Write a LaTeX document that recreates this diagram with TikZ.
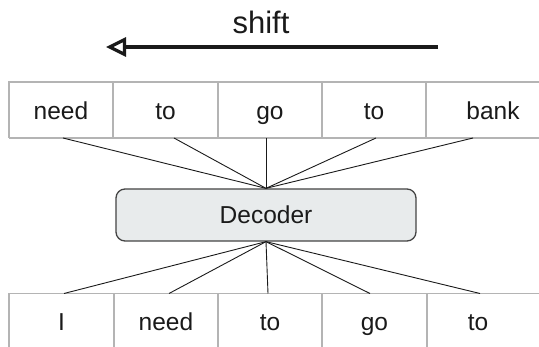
\documentclass[tikz,border=0pt]{standalone}
\usepackage{fontspec}
\setmainfont{Liberation Sans}
\usetikzlibrary{arrows.meta}
\definecolor{cellline}{HTML}{B4B4B4}
\definecolor{decfill}{HTML}{E8EBEC}
\definecolor{decline}{HTML}{444444}
\definecolor{ink}{HTML}{1A1A1A}
\tikzset{
  word/.style={text=ink, inner sep=0pt, anchor=base, font=\fontsize{24.5}{28}\selectfont},
  cellgrid/.style={draw=cellline, line width=1.1pt},
  decoderbox/.style={draw=decline, fill=decfill, line width=1.3pt, rounded corners=9pt,
    minimum width=300pt, minimum height=52pt, inner sep=0pt, text=ink,
    font=\fontsize{24.5}{28}\selectfont},
  link/.style={draw=ink, line width=0.9pt},
  shiftarrow/.style={draw=ink, line width=3.6pt,
    -{Triangle[open, length=20pt, width=19pt, line width=3.2pt]}},
}
\begin{document}
\begin{tikzpicture}[x=1pt,y=-1pt]
\useasboundingbox (0,0) rectangle (539,347);
\clip (0,0) rectangle (539,347);

% shift arrow and its label
\coordinate (shiftR) at (438,47);
\coordinate (shiftL) at (106,47);
\draw[shiftarrow] (shiftR) -- (shiftL);
\node[word, font=\fontsize{31}{35}\selectfont] (shiftlbl) at (261,34) {shift};

% output row
\draw[cellgrid] (9,138) -- (9,82) -- (600,82);
\draw[cellgrid] (9,138) -- (600,138);
\foreach \x in {113,218,322,426} \draw[cellgrid] (\x,82) -- (\x,138);
\node[word] (o1) at (61,120) {need};
\node[word] (o2) at (165.5,120) {to};
\node[word] (o3) at (270,120) {go};
\node[word] (o4) at (374,120) {to};
\node[word] (o5) at (493,120) {bank};

% input row
\draw[cellgrid] (9,360) -- (9,293.5) -- (600,293.5);
\foreach \x in {114,218,322,427} \draw[cellgrid] (\x,293.5) -- (\x,360);
\node[word] (i1) at (61.5,331) {I};
\node[word] (i2) at (166,331) {need};
\node[word] (i3) at (270,331) {to};
\node[word] (i4) at (374.5,331) {go};
\node[word] (i5) at (478,331) {to};

% decoder
\node[decoderbox] (dec) at (266,215) {Decoder};

% attachment points on the rows
\coordinate (a1) at (63,138);
\coordinate (a2) at (174,138);
\coordinate (a3) at (266,138);
\coordinate (a4) at (376,138);
\coordinate (a5) at (473,138);
\coordinate (b1) at (64,293.5);
\coordinate (b2) at (169,293.5);
\coordinate (b3) at (268,293.5);
\coordinate (b4) at (370,293.5);
\coordinate (b5) at (480,293.5);

\foreach \k in {1,...,5} {
  \draw[link] (a\k) -- (dec.north);
  \draw[link] (dec.south) -- (b\k);
}
\end{tikzpicture}
\end{document}
